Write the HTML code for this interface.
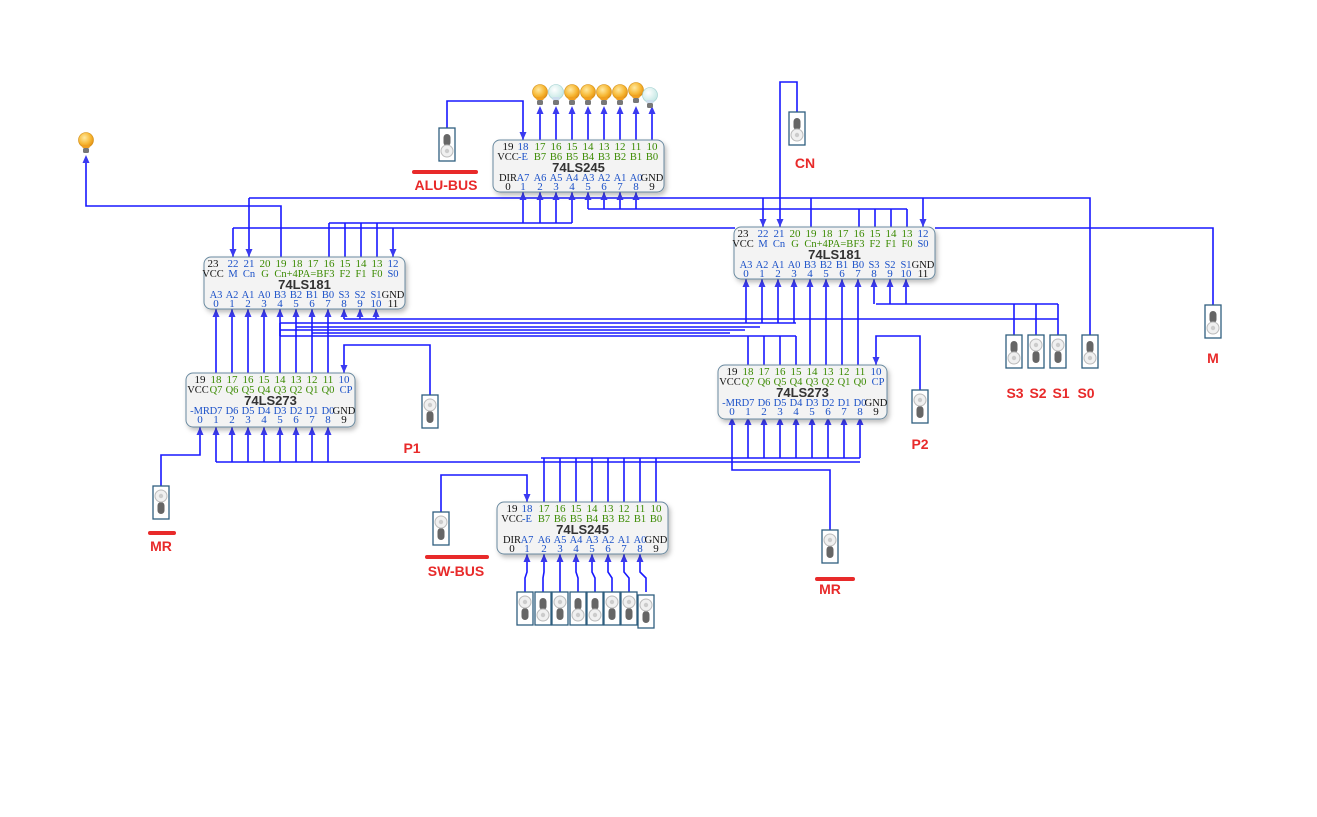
<!DOCTYPE html>
<html><head><meta charset="utf-8">
<style>html,body{margin:0;padding:0;background:#fff;}svg{display:block;}</style>
</head><body>
<svg id="s" xmlns="http://www.w3.org/2000/svg" width="1317" height="817" viewBox="0 0 1317 817" font-family="Liberation Sans, sans-serif">
<defs>
<radialGradient id="on" cx="0.4" cy="0.35" r="0.7"><stop offset="0" stop-color="#ffe9a0"/><stop offset="0.6" stop-color="#f7b733"/><stop offset="1" stop-color="#e08a10"/></radialGradient>
<radialGradient id="off" cx="0.4" cy="0.35" r="0.7"><stop offset="0" stop-color="#ffffff"/><stop offset="1" stop-color="#bfe6e2"/></radialGradient>
<filter id="sh" x="-10%" y="-10%" width="130%" height="140%"><feDropShadow dx="2" dy="3" stdDeviation="2.5" flood-color="#000" flood-opacity="0.25"/></filter>
</defs>
<g id="wires" stroke="#1818ff" stroke-width="1.6" fill="none"></g>
<g id="arrows" fill="#3a3af0"></g>
<g id="parts"></g>
</svg>
<script>
const NS="http://www.w3.org/2000/svg";
const gw=document.getElementById('wires'),ga=document.getElementById('arrows'),gp=document.getElementById('parts');
function el(tag,attrs,parent,text){const e=document.createElementNS(NS,tag);for(const k in attrs)e.setAttribute(k,attrs[k]);if(text!==undefined)e.textContent=text;parent.appendChild(e);return e;}
function W(pts){el('polyline',{points:pts.map(p=>p.join(',')).join(' ')},gw);}
function A(x,y,dir){
 if(dir==='u')el('polygon',{points:`${x},${y} ${x-3.5},${y+8} ${x+3.5},${y+8}`},ga);
 else el('polygon',{points:`${x},${y} ${x-3.5},${y-8} ${x+3.5},${y-8}`},ga);}
const K='#111',G='#3a8a00',B='#1a50c8';
const SF='Liberation Serif, serif';
function chip(x,y,w,h,title,topOff,topNum,topLab,topCol,botOff,botLab,botCol,labOff){
 el('rect',{x:x,y:y,width:w,height:h,rx:7,fill:'#f3f3f3',stroke:'#6a8aa0','stroke-width':1,filter:'url(#sh)'},gp);
 topOff.forEach((o,i)=>{el('text',{x:x+o,y:y+10,'font-size':11,'font-family':SF,'text-anchor':'middle',fill:topCol[i]},gp,topNum[i]);});
 topLab.forEach((l,i)=>{el('text',{x:x+labOff[i],y:y+20,'font-size':10.5,'font-family':SF,'text-anchor':'middle',fill:l[1]},gp,l[0]);});
 el('text',{x:x+w/2,y:y+32,'font-size':13,'font-weight':'bold','text-anchor':'middle',fill:'#333'},gp,title);
 botOff.forEach((o,i)=>{el('text',{x:x+o,y:y+41,'font-size':10.5,'font-family':SF,'text-anchor':'middle',fill:botCol[i]},gp,botLab[i]);
   el('text',{x:x+o,y:y+50,'font-size':11,'font-family':SF,'text-anchor':'middle',fill:botCol[i]},gp,String(i));});
}
const o245=[15,30,47,63,79,95,111,127,143,159];
function c245(x,y){const tc=[K,B,G,G,G,G,G,G,G,G];
 chip(x,y,171,52,'74LS245',o245,['19','18','17','16','15','14','13','12','11','10'],
 [['VCC',K],['-E',B],['B7',G],['B6',G],['B5',G],['B4',G],['B3',G],['B2',G],['B1',G],['B0',G]],tc,
 o245,['DIR','A7','A6','A5','A4','A3','A2','A1','A0','GND'],[K,B,B,B,B,B,B,B,B,K],o245);}
const o273=[14,30,46,62,78,94,110,126,142,158];
function c273(x,y){
 chip(x,y,169,54,'74LS273',o273,['19','18','17','16','15','14','13','12','11','10'],
 [['VCC',K],['Q7',G],['Q6',G],['Q5',G],['Q4',G],['Q3',G],['Q2',G],['Q1',G],['Q0',G],['CP',B]],[K,G,G,G,G,G,G,G,G,B],
 o273,['-MR','D7','D6','D5','D4','D3','D2','D1','D0','GND'],[B,B,B,B,B,B,B,B,B,K],[12,30,46,62,78,94,110,126,142,160]);}
const t181=[9,29,45,61,77,93,109,125,141,157,173,189],b181=[12,28,44,60,76,92,108,124,140,156,172,189];
function c181(x,y){
 chip(x,y,201,52,'74LS181',t181,['23','22','21','20','19','18','17','16','15','14','13','12'],
 [['VCC',K],['M',B],['Cn',B],['G',G],['Cn+4P',G],['A=B',G],['F3',G],['F2',G],['F1',G],['F0',G],['S0',B]],
 [K,B,B,G,G,G,G,G,G,G,G,B],
 b181,['A3','A2','A1','A0','B3','B2','B1','B0','S3','S2','S1','GND'],[B,B,B,B,B,B,B,B,B,B,B,K],
 [9,29,45,61,85,109,125,141,157,173,189]);}
function sw(cx,y,up){
 el('rect',{x:cx-8,y:y,width:16,height:33,fill:'#fff',stroke:'#2f5f7f','stroke-width':1.3},gp);
 const cy1=up?y+10:y+23, by=up?y+16:y+6;
 el('rect',{x:cx-3.5,y:by,width:7,height:12,rx:3.5,fill:'#666'},gp);
 el('circle',{cx:cx,cy:cy1,r:6,fill:'#f0f0f0',stroke:'#bbb'},gp);
 el('circle',{cx:cx,cy:cy1,r:2.2,fill:'#ccc'},gp);
}
function lamp(cx,cy,on){
 el('circle',{cx:cx,cy:cy,r:7.5,fill:on?'url(#on)':'url(#off)',stroke:on?'#d08a10':'#9cc',"stroke-width":0.6},gp);
 el('rect',{x:cx-3.5,y:cy+5,width:7,height:3,fill:on?'#f0a020':'#cde'},gp);
 el('rect',{x:cx-3,y:cy+8,width:6,height:5,rx:1.5,fill:'#777'},gp);
}
function lbl(x,y,t,bar){el('text',{x:x,y:y,'font-size':14,'font-weight':'bold','text-anchor':'middle',fill:'#e82a2a'},gp,t);
 if(bar)el('rect',{x:bar[0],y:bar[1],width:bar[2],height:4,rx:2,fill:'#e82a2a'},gp);}

const T=o245.map(o=>493+o);
for(let i=2;i<10;i++){W([[T[i],140],[T[i],108]]);A(T[i],106,'u');}
W([[447,128],[447,101],[523,101],[523,140]]);A(523,140,'d');
W([[86,157],[86,206],[281,206],[281,257]]);A(86,155,'u');
const L181=t181.map(o=>204+o), R181=t181.map(o=>734+o);
const L181b=b181.map(o=>204+o), R181b=b181.map(o=>734+o);
for(let i=1;i<=4;i++){W([[T[i],192],[T[i],223]]);A(T[i],192,'u');}
W([[329,223],[572,223]]);
for(let i=7;i<=10;i++)W([[L181[i],223],[L181[i],257]]);
for(let i=5;i<=8;i++){W([[T[i],192],[T[i],209]]);A(T[i],192,'u');}
W([[588,209],[907,209]]);
for(let i=7;i<=10;i++)W([[R181[i],209],[R181[i],227]]);
W([[249,198],[1090,198],[1090,335]]);
W([[249,198],[249,257]]);A(249,257,'d');
W([[R181[1],198],[R181[1],227]]);A(R181[1],227,'d');
W([[R181[4],198],[R181[4],227]]);
W([[R181[11],198],[R181[11],227]]);A(R181[11],227,'d');
W([[233,228],[735,228]]);W([[935,228],[1213,228],[1213,305]]);
W([[233,228],[233,257]]);A(233,257,'d');
W([[393,228],[393,257]]);A(393,257,'d');
W([[797,112],[797,82],[780,82],[780,227]]);A(780,227,'d');
const L273=o273.map(o=>186+o), R273=o273.map(o=>718+o);
for(let i=0;i<8;i++){W([[L181b[i],309],[L181b[i],373]]);A(L181b[i],309,'u');}
for(let i=8;i<=10;i++){W([[L181b[i],309],[L181b[i],319]]);A(L181b[i],309,'u');}
W([[344,319],[1058,319]]);
for(let i=8;i<=10;i++){W([[R181b[i],279],[R181b[i],304]]);A(R181b[i],279,'u');}
W([[876,304],[1058,304]]);
[1014,1036,1058].forEach(x=>W([[x,304],[x,335]]));
W([[280,323],[796,323]]);W([[280,330],[745,330]]);W([[296,327],[760,327]]);W([[280,336],[796,336]]);W([[312,333],[730,333]]);
W([[280,323],[280,336]]);
for(let i=0;i<4;i++){W([[R181b[i],279],[R181b[i],323]]);A(R181b[i],279,'u');}
for(let i=1;i<=4;i++)W([[R273[i],336],[R273[i],365]]);
for(let i=4;i<8;i++){W([[R181b[i],279],[R181b[i],365]]);A(R181b[i],279,'u');}
W([[430,395],[430,345],[344,345],[344,373]]);A(344,373,'d');
W([[920,390],[920,336],[876,336],[876,365]]);A(876,365,'d');
for(let i=1;i<=8;i++){W([[L273[i],427],[L273[i],462]]);A(L273[i],427,'u');}
W([[216,462],[860,462]]);
W([[L273[0],427],[L273[0],455],[161,455],[161,486]]);A(L273[0],427,'u');
for(let i=1;i<=8;i++){W([[R273[i],417],[R273[i],458]]);A(R273[i],417,'u');}
W([[541,458],[860,458]]);
W([[R273[0],417],[R273[0],470],[830,470],[830,530]]);A(R273[0],417,'u');
const Bt=o245.map(o=>497+o);
for(let i=2;i<10;i++)W([[Bt[i],458],[Bt[i],502]]);
W([[441,512],[441,475],[527,475],[527,502]]);A(527,502,'d');
const swx=[525,543,560,578,595,612,629,646];
for(let i=1;i<=8;i++){W([[Bt[i],554],[Bt[i],572],[swx[i-1],578],[swx[i-1],592]]);A(Bt[i],554,'u');}

c245(493,140);c181(204,257);c181(734,227);c273(186,373);c273(718,365);c245(497,502);
lamp(86,140,true);
const lon=[true,false,true,true,true,true,true,false];
for(let i=2;i<10;i++)lamp(T[i]-(i==9?2:0),92+(i==9?3:0)-(i==8?2:0),lon[i-2]);
sw(447,128,false);sw(797,112,false);sw(1213,305,false);
sw(1014,335,false);sw(1036,335,true);sw(1058,335,true);sw(1090,335,false);
sw(430,395,true);sw(920,390,true);sw(161,486,true);sw(830,530,true);sw(441,512,true);
const st=[true,false,true,false,false,true,true,true];
swx.forEach((x,i)=>sw(x,592+(i==7?3:0),st[i]));
lbl(446,190,'ALU-BUS',[412,170,66]);
lbl(805,168,'CN');lbl(1213,363,'M');
lbl(1015,398,'S3');lbl(1038,398,'S2');lbl(1061,398,'S1');lbl(1086,398,'S0');
lbl(412,453,'P1');lbl(920,449,'P2');
lbl(161,551,'MR',[148,531,28]);lbl(456,576,'SW-BUS',[425,555,64]);lbl(830,594,'MR',[815,577,40]);
</script>
</body></html>
